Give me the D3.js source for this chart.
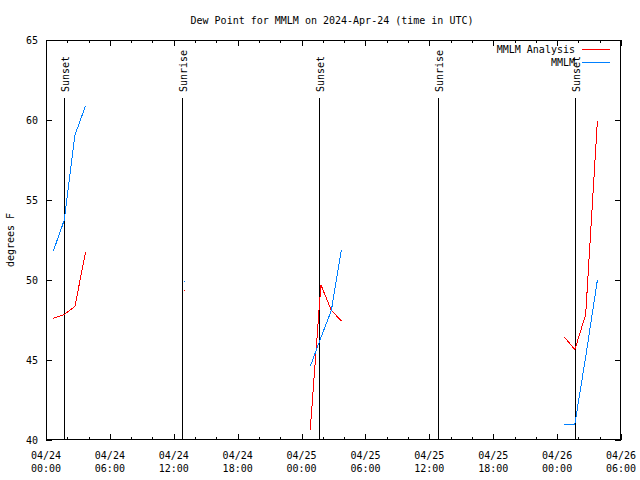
<!DOCTYPE html>
<html><head><meta charset="utf-8">
<script src="https://cdn.jsdelivr.net/npm/d3@7"></script>
<style>
body{margin:0;background:#fff}
text{font-family:"DejaVu Sans Mono","Liberation Mono",monospace;font-size:10px;fill:#000}
</style>
</head><body>
<svg id="chart" width="640" height="480"></svg>
<script>
// ---- data ----
const title = "Dew Point for MMLM on 2024-Apr-24 (time in UTC)";
const yLabel = "degrees F";
const times = [
  "2024-04-24T00:41Z","2024-04-24T01:43Z","2024-04-24T02:43Z","2024-04-24T03:43Z",
  "2024-04-24T12:58Z",
  "2024-04-25T00:49Z","2024-04-25T01:49Z","2024-04-25T02:48Z","2024-04-25T03:44Z",
  "2024-04-26T00:40Z","2024-04-26T01:40Z","2024-04-26T02:41Z","2024-04-26T03:47Z"
];
const analysisValues = [47.6, 47.85, 48.35, 51.75, 49.35, 40.65, 49.7, 48.1, 47.45, 46.45, 45.65, 47.85, 59.95];
const observedValues = [51.8, 53.75, 59.05, 60.9, 49.95, 44.6, 46.4, 48.1, 51.85, 41.0, 41.0, 45.2, 50.0];
const seriesNames = ["MMLM Analysis", "MMLM"];
const seriesColors = ["#ff0000", "#0080ff"];
const eventTimes = ["2024-04-24T01:44Z","2024-04-24T12:48Z","2024-04-25T01:38Z","2024-04-25T12:50Z","2024-04-26T01:38Z"];
const eventLabels = ["Sunset","Sunrise","Sunset","Sunrise","Sunset"];
const yTicks = [40, 45, 50, 55, 60, 65];
const xDomain = ["2024-04-24T00:00Z", "2024-04-26T06:00Z"];

// ---- layout ----
const svg = d3.select("#chart");
const L = 46, R = 621, T = 40, B = 440;
const x = d3.scaleUtc().domain(xDomain.map(d => new Date(d))).range([L, R]);
const y = d3.scaleLinear().domain([40, 65]).range([B, T]);
const g = svg.append("g").attr("shape-rendering", "crispEdges");

// title
svg.append("text").attr("x", 332).attr("y", 20).attr("text-anchor", "middle")
  .attr("dominant-baseline", "central").text(title);
// y label
svg.append("text").attr("transform", "translate(10,240) rotate(-90)")
  .attr("text-anchor", "middle").attr("dominant-baseline", "central").text(yLabel);

// ticks
const majorX = d3.utcHour.every(6).range(x.domain()[0], new Date(x.domain()[1].getTime() + 1));
const minorX = d3.utcHour.every(2).range(x.domain()[0], new Date(x.domain()[1].getTime() + 1));
const fmtD = d3.utcFormat("%m/%d"), fmtT = d3.utcFormat("%H:%M");
minorX.forEach(t => {
  const major = t.getUTCHours() % 6 === 0;
  const len = major ? 6 : 3;
  const px = Math.round(x(t)) + 0.5;
  g.append("line").attr("x1", px).attr("x2", px).attr("y1", B).attr("y2", B - len).attr("stroke", "#000");
  g.append("line").attr("x1", px).attr("x2", px).attr("y1", T).attr("y2", T + len).attr("stroke", "#000");
});
majorX.forEach(t => {
  const px = x(t);
  svg.append("text").attr("x", px).attr("y", 455).attr("text-anchor", "middle")
    .attr("dominant-baseline", "central").text(fmtD(t));
  svg.append("text").attr("x", px).attr("y", 468).attr("text-anchor", "middle")
    .attr("dominant-baseline", "central").text(fmtT(t));
});
yTicks.forEach(v => {
  const py = Math.round(y(v)) + 0.5;
  g.append("line").attr("x1", L).attr("x2", L + 6).attr("y1", py).attr("y2", py).attr("stroke", "#000");
  g.append("line").attr("x1", R - 6).attr("x2", R).attr("y1", py).attr("y2", py).attr("stroke", "#000");
  svg.append("text").attr("x", 38).attr("y", y(v)).attr("text-anchor", "end")
    .attr("dominant-baseline", "central").text(v);
});

// event lines
eventTimes.forEach((t, i) => {
  const px = Math.round(x(new Date(t))) + 0.5;
  g.append("line").attr("x1", px).attr("x2", px).attr("y1", 98).attr("y2", B).attr("stroke", "#000");
  svg.append("text").attr("transform", `translate(${px + 1},92) rotate(-90)`)
    .attr("text-anchor", "start").attr("dominant-baseline", "central").text(eventLabels[i]);
});

// series
function drawSeries(vals, color) {
  const pts = times.map((t, i) => ({ t: new Date(t), v: vals[i] }));
  const segs = [];
  let cur = [];
  pts.forEach((p, i) => {
    if (i > 0 && (p.t - pts[i - 1].t) > 3 * 3600e3) { segs.push(cur); cur = []; }
    cur.push(p);
  });
  segs.push(cur);
  const line = d3.line().x(d => x(d.t)).y(d => y(d.v));
  segs.forEach(s => {
    if (s.length > 1) {
      g.append("path").attr("d", line(s)).attr("fill", "none").attr("stroke", color).attr("stroke-width", 1);
    } else {
      g.append("rect").attr("x", Math.round(x(s[0].t))).attr("y", Math.round(y(s[0].v)))
        .attr("width", 1).attr("height", 1).attr("fill", color);
    }
  });
}
drawSeries(analysisValues, seriesColors[0]);
drawSeries(observedValues, seriesColors[1]);

// border
g.append("rect").attr("x", L + 0.5).attr("y", T + 0.5).attr("width", R - L - 1).attr("height", B - T - 1)
  .attr("fill", "none").attr("stroke", "#000");

// legend
seriesNames.forEach((n, i) => {
  const ly = 49 + i * 13;
  svg.append("text").attr("x", 575).attr("y", ly).attr("text-anchor", "end")
    .attr("dominant-baseline", "central").text(n);
  g.append("line").attr("x1", 582).attr("x2", 610).attr("y1", ly + 0.5).attr("y2", ly + 0.5)
    .attr("stroke", seriesColors[i]);
});
</script>
</body></html>
